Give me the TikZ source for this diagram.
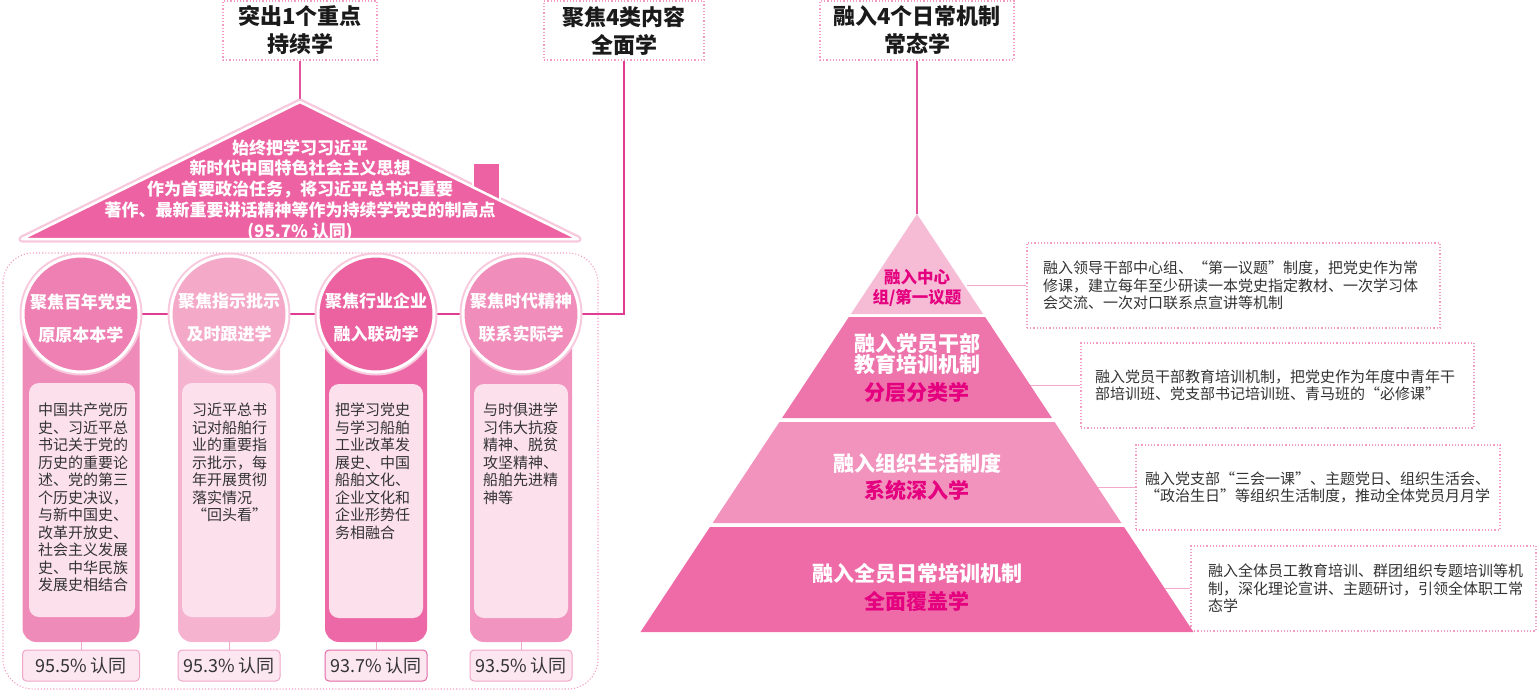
\documentclass[tikz,border=0pt]{standalone}
\usepackage{fontspec}
\setmainfont{Noto Sans CJK SC}
\usetikzlibrary{backgrounds}
\definecolor{roofc}{HTML}{ED62A2}
\definecolor{glowc}{HTML}{F8C8DD}
\definecolor{dotc}{HTML}{F29CC4}
\definecolor{linec}{HTML}{E0559E}
\definecolor{hlinec}{HTML}{E03C93}
\definecolor{titlec}{HTML}{1A1A1A}
\definecolor{txtc}{HTML}{333333}
\definecolor{innerc}{HTML}{FCE1ED}
\definecolor{pctf}{HTML}{FCE6F0}
\definecolor{pctb}{HTML}{F0A6C8}
\definecolor{pctbd}{HTML}{E36AA5}
\definecolor{plinec}{HTML}{F0A8C8}
\definecolor{pib}{HTML}{EF8BB9}\definecolor{pic}{HTML}{EE80B3}
\definecolor{piib}{HTML}{F5B3CF}\definecolor{piic}{HTML}{F4A9C9}
\definecolor{piiib}{HTML}{EC68A6}\definecolor{piiic}{HTML}{EC62A1}
\definecolor{pivb}{HTML}{F194BF}\definecolor{pivc}{HTML}{F08DBA}
\definecolor{tia}{HTML}{F6BCD6}
\definecolor{tib}{HTML}{EE74AC}
\definecolor{tic}{HTML}{F293BE}
\definecolor{tid}{HTML}{EE6BA7}
\definecolor{magc}{HTML}{E4007F}
\definecolor{pconnc}{HTML}{F5A9CA}
\begin{document}
\begin{tikzpicture}[x=1pt,y=-1pt,
  ttl/.style={draw=dotc, dotted, line width=1.2, fill=white, align=center,
    font=\fontsize{22}{28}\selectfont\bfseries, text=titlec, minimum height=59, inner sep=0},
  conn/.style={draw=linec, line width=1.6},
  body/.style={rounded corners=14, minimum height=329, inner sep=0},
  inbox/.style={fill=innerc, rounded corners=10, inner sep=0, minimum height=234},
  itxt/.style={align=left, font=\fontsize{15}{17.5}\selectfont, text=txtc, inner sep=0, anchor=north west},
  circ/.style={circle, draw=white, line width=3, minimum size=116, inner sep=0},
  ctxt/.style={align=center, text=white, font=\fontsize{17}{33}\selectfont\bfseries, inner sep=0},
  pct/.style={draw=pctb, line width=1, fill=pctf, rounded corners=4, minimum height=31, inner sep=0,
    font=\fontsize{18}{20}\selectfont, text=txtc},
  rbox/.style={draw=dotc, dotted, line width=1.2, fill=white, align=left,
    font=\fontsize{15}{17.5}\selectfont, text=txtc, inner ysep=0, minimum height=85},
  pconn/.style={draw=pconnc, line width=1.3},
  pline/.style={draw=plinec, line width=1},
  tiertxt/.style={align=center, font=\fontsize{21}{21}\selectfont\bfseries, text=white, inner sep=0}
]
\useasboundingbox (0,0) rectangle (1537,691);

% ---------- titles ----------
\node[ttl, minimum width=154] (T1) at (300,30.5) {突出1个重点\\持续学};
\node[ttl, minimum width=160] (T2) at (624,30.5) {聚焦4类内容\\全面学};
\node[ttl, minimum width=194] (T3) at (917,30.5) {融入4个日常机制\\常态学};

% ---------- roof ----------
\coordinate (apex) at (300,102);
\draw[conn] (T1.south) -- (apex);
\draw[glowc, line width=7, line join=round] (22,239) -- (apex) -- (578,239) -- cycle;
\filldraw[fill=roofc, draw=white, line width=2.5] (473,163) rectangle (500,215);
\filldraw[fill=roofc, draw=white, line width=2.5, line join=round] (22,239) -- (apex) -- (578,239) -- cycle;
\node[font=\fontsize{17}{20.8}\selectfont\bfseries, text=white, align=center, inner sep=0] (rooftxt) at (300,190)
 {始终把学习习近平\\新时代中国特色社会主义思想\\作为首要政治任务，将习近平总书记重要\\著作、最新重要讲话精神等作为持续学党史的制高点\\(95.7\% 认同)};

% ---------- outer dotted frame ----------
\draw[dotc, dotted, line width=1.1, rounded corners=30] (3,253) rectangle (598,689);

% ---------- pillars ----------
\node[body, fill=pib, minimum width=117] (B1) at (81,477.5) {};
\node[body, fill=piib, minimum width=102] (B2) at (229,477.5) {};
\node[body, fill=piiib, minimum width=102] (B3) at (376,477.5) {};
\node[body, fill=pivb, minimum width=102] (B4) at (521,477.5) {};

\node[inbox, minimum width=106] (I1) at (82,500) {};
\node[inbox, minimum width=94] (I2) at (229,500) {};
\node[inbox, minimum width=94] (I3) at (376,501) {};
\node[inbox, minimum width=94] (I4) at (521,501) {};

\node[itxt] (X1) at (38,403) {中国共产党历\\史、习近平总\\书记关于党的\\历史的重要论\\述、党的第三\\个历史决议，\\与新中国史、\\改革开放史、\\社会主义发展\\史、中华民族\\发展史相结合};
\node[itxt] (X2) at (192,403) {习近平总书\\记对船舶行\\业的重要指\\示批示，每\\年开展贯彻\\落实情况\\“回头看”};
\node[itxt] (X3) at (335,403) {把学习党史\\与学习船舶\\工业改革发\\展史、中国\\船舶文化、\\企业文化和\\企业形势任\\务相融合};
\node[itxt] (X4) at (483,403) {与时俱进学\\习伟大抗疫\\精神、脱贫\\攻坚精神、\\船舶先进精\\神等};

\foreach \cx in {81,229,376,521} { \fill[glowc] (\cx,314) circle (61.5); }
\node[circ, fill=pic] (C1) at (81,314) {};
\node[circ, fill=piic] (C2) at (229,314) {};
\node[circ, fill=piiic] (C3) at (376,314) {};
\node[circ, fill=pivc] (C4) at (521,314) {};
\node[ctxt] (L1) at (81,318) {聚焦百年党史\\原原本本学};
\node[ctxt] (L2) at (229,318) {聚焦指示批示\\及时跟进学};
\node[ctxt] (L3) at (376,318) {聚焦行业企业\\融入联动学};
\node[ctxt] (L4) at (521,318) {聚焦时代精神\\联系实际学};

\begin{scope}[on background layer]
\draw[hlinec, line width=1.8] (T2.south) |- (C1.center);
\end{scope}

\node[pct, minimum width=117] (P1) at (81,665.5) {95.5\% 认同};
\node[pct, minimum width=102] (P2) at (229,665.5) {95.3\% 认同};
\node[pct, draw=pctbd, minimum width=102] (P3) at (376,665.5) {93.7\% 认同};
\node[pct, minimum width=102] (P4) at (521,665.5) {93.5\% 认同};
\draw[pline] (B1.south) -- (P1.north);
\draw[pline] (B2.south) -- (P2.north);
\draw[pline] (B3.south) -- (P3.north);
\draw[pline] (B4.south) -- (P4.north);

% ---------- pyramid ----------
\coordinate (papex) at (917,214);
\draw[conn] (T3.south) -- (papex);

\node[rbox, text width=381, inner xsep=16] (RA) at (1233.5,285.5)
 {融入领导干部中心组、“第一议题”制度，把党史作为常\\修课，建立每年至少研读一本党史指定教材、一次学习体\\会交流、一次对口联系点宣讲等机制};
\node[rbox, text width=365, inner xsep=14] (RB) at (1277.5,385.5)
 {融入党员干部教育培训机制，把党史作为年度中青年干\\部培训班、党支部书记培训班、青马班的“必修课”};
\node[rbox, text width=346, inner xsep=9] (RC) at (1318,487.5)
 {融入党支部“三会一课”、主题党日、组织生活会、\\“政治生日”等组织生活制度，推动全体党员月月学};
\node[rbox, text width=311, inner xsep=17] (RD) at (1363.5,588.5)
 {融入全体员工教育培训、群团组织专题培训等机\\制，深化理论宣讲、主题研讨，引领全体职工常\\态学};

\coordinate (eA) at (967.3,285.5);
\coordinate (eB) at (1030.4,385.5);
\coordinate (eC) at (1097.9,487.5);
\coordinate (eD) at (1164.7,588.5);
\draw[pconn] (eA) -- (RA.west);
\draw[pconn] (eB) -- (RB.west);
\draw[pconn] (eC) -- (RC.west);
\draw[pconn] (eD) -- (RD.west);

\fill[tia] (papex) -- (983.15,314) -- (850.85,314) -- cycle;
\fill[tib] (848.87,317) -- (985.13,317) -- (1051.95,418) -- (782.05,418) -- cycle;
\fill[tic] (779.41,422) -- (1054.59,422) -- (1121.40,523) -- (712.60,523) -- cycle;
\fill[tid] (709.95,527) -- (1124.05,527) -- (1193.51,632) -- (640.49,632) -- cycle;

\node[tiertxt, text=magc, font=\fontsize{16.5}{20.5}\selectfont\bfseries] (Q1) at (917,288) {融入中心\\组/第一议题};
\node[tiertxt] (Q2) at (917,368) {融入党员干部\\教育培训机制\\[7pt]{\color{magc}分层分类学}};
\node[tiertxt] (Q3) at (917,477) {融入组织生活制度\\[6pt]{\color{magc}系统深入学}};
\node[tiertxt] (Q4) at (917,587) {融入全员日常培训机制\\[7pt]{\color{magc}全面覆盖学}};
\end{tikzpicture}
\end{document}
